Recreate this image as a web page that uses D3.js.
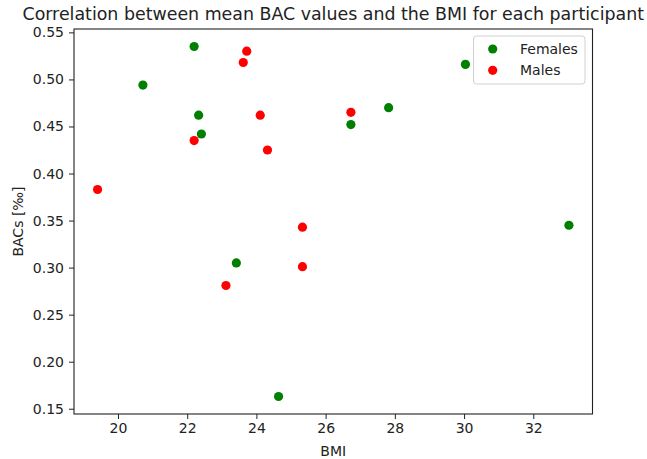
<!DOCTYPE html>
<html>
<head>
<meta charset="utf-8">
<script src="https://cdn.jsdelivr.net/npm/d3@7"></script>
<style>
  html, body { margin: 0; padding: 0; background: #fff; }
  svg { display: block; font-family: "DejaVu Sans", sans-serif; }
</style>
</head>
<body>
<svg id="chart" width="647" height="459"></svg>
<script>
// BMI and mean BAC (‰) per participant, split by sex
const femaleBMI = [20.72, 22.2, 22.33, 22.41, 23.42, 24.64, 26.73, 27.82, 30.04, 33.03];
const femaleBAC = [0.494, 0.535, 0.462, 0.442, 0.305, 0.163, 0.452, 0.470, 0.516, 0.345];
const maleBMI = [19.41, 22.2, 23.12, 23.62, 23.72, 24.11, 24.32, 25.33, 25.33, 26.73];
const maleBAC = [0.383, 0.435, 0.281, 0.518, 0.530, 0.462, 0.425, 0.343, 0.301, 0.465];
const xTicks = [20, 22, 24, 26, 28, 30, 32];
const yTicks = [0.15, 0.20, 0.25, 0.30, 0.35, 0.40, 0.45, 0.50, 0.55];
const seriesNames = ["Females", "Males"];
const seriesColors = ["green", "red"];

const series = [
  { name: seriesNames[0], color: seriesColors[0], pts: femaleBMI.map((b, i) => ({ x: b, y: femaleBAC[i] })) },
  { name: seriesNames[1], color: seriesColors[1], pts: maleBMI.map((b, i) => ({ x: b, y: maleBAC[i] })) }
];

const plot = { left: 74, right: 592.5, top: 29, bottom: 414 };
const svg = d3.select("#chart");

// Data limits padded by 5% on each side
function padded(vals) {
  const [lo, hi] = d3.extent(vals);
  const m = (hi - lo) * 0.05;
  return [lo - m, hi + m];
}
const allX = femaleBMI.concat(maleBMI);
const allY = femaleBAC.concat(maleBAC);

const x = d3.scaleLinear().domain(padded(allX)).range([plot.left, plot.right]);
const y = d3.scaleLinear().domain(padded(allY)).range([plot.bottom, plot.top]);

const textColor = "#222";

// Axes
const xAxis = svg.append("g")
  .attr("transform", `translate(0,${plot.bottom})`)
  .call(d3.axisBottom(x).tickValues(xTicks).tickFormat(d3.format("d")).tickSize(5).tickPadding(4));
const yAxis = svg.append("g")
  .attr("transform", `translate(${plot.left},0)`)
  .call(d3.axisLeft(y).tickValues(yTicks).tickFormat(d3.format(".2f")).tickSize(5).tickPadding(5));

[xAxis, yAxis].forEach(a => {
  a.select(".domain").remove();
  a.selectAll(".tick line").attr("stroke", textColor).attr("stroke-width", 1);
  a.selectAll(".tick text").attr("fill", textColor).style("font-size", "14px")
    .style("font-family", "DejaVu Sans, sans-serif");
});

// Frame
svg.append("rect")
  .attr("x", plot.left).attr("y", plot.top)
  .attr("width", plot.right - plot.left).attr("height", plot.bottom - plot.top)
  .attr("fill", "none").attr("stroke", textColor).attr("stroke-width", 1.1);

// Points
series.forEach(s => {
  svg.append("g").selectAll("circle")
    .data(s.pts).join("circle")
    .attr("cx", d => x(d.x)).attr("cy", d => y(d.y))
    .attr("r", 4.6).attr("fill", s.color);
});

// Title and axis labels
svg.append("text")
  .attr("x", (plot.left + plot.right) / 2).attr("y", 20)
  .attr("text-anchor", "middle").attr("fill", textColor)
  .style("font-size", "17.4px")
  .text("Correlation between mean BAC values and the BMI for each participant");

svg.append("text")
  .attr("x", (plot.left + plot.right) / 2).attr("y", 456)
  .attr("text-anchor", "middle").attr("fill", textColor)
  .style("font-size", "14px").text("BMI");

svg.append("text")
  .attr("transform", `translate(23,${(plot.top + plot.bottom) / 2}) rotate(-90)`)
  .attr("text-anchor", "middle").attr("fill", textColor)
  .style("font-size", "14px").text("BACs [‰]");

// Legend
const legend = svg.append("g");
legend.append("rect")
  .attr("x", 473.5).attr("y", 36).attr("width", 111.5).attr("height", 48)
  .attr("rx", 3).attr("fill", "#fff").attr("fill-opacity", 0.8)
  .attr("stroke", "#d0d0d0").attr("stroke-width", 1);
series.forEach((s, i) => {
  const cy = 49 + i * 21.3;
  legend.append("circle").attr("cx", 492.7).attr("cy", cy).attr("r", 4.6).attr("fill", s.color);
  legend.append("text").attr("x", 520).attr("y", cy + 5)
    .attr("fill", textColor).style("font-size", "14px").text(s.name);
});
</script>
</body>
</html>
